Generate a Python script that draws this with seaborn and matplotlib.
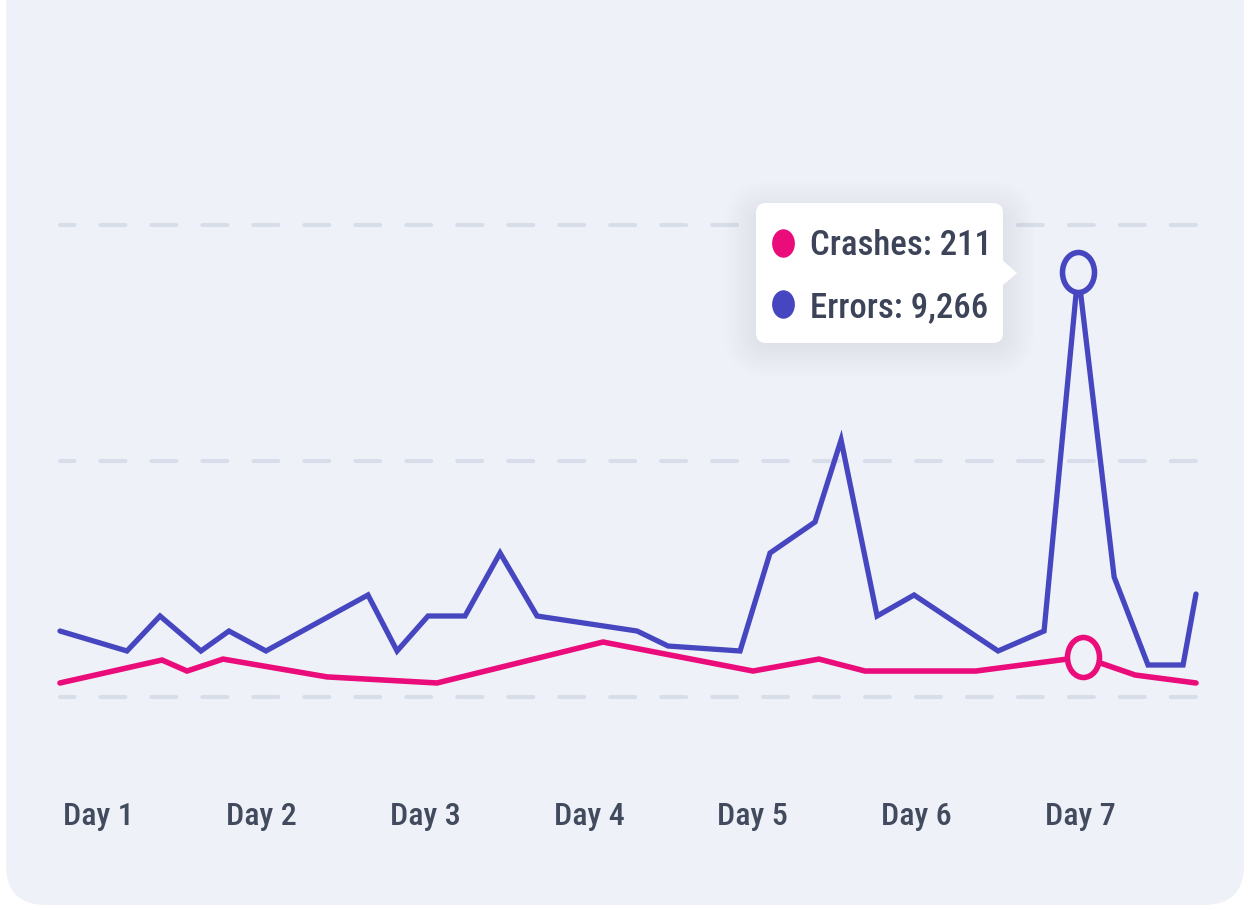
import matplotlib
matplotlib.use("Agg")
import matplotlib.pyplot as plt
import seaborn as sns
from matplotlib.patches import FancyBboxPatch, Polygon
from matplotlib.path import Path
import matplotlib.transforms as mtransforms

# ---------------- data ----------------
day_ticks = [1, 2, 3, 4, 5, 6, 7]
day_labels = ["Day 1", "Day 2", "Day 3", "Day 4", "Day 5", "Day 6", "Day 7"]

error_x = [0.768, 1.177, 1.379, 1.629, 1.800, 2.026, 2.649, 2.827, 3.016, 3.242,
           3.456, 3.682, 4.293, 4.482, 4.922, 5.105, 5.380, 5.539, 5.759, 5.985,
           6.498, 6.779, 6.987, 7.207, 7.414, 7.628, 7.707]
error_y = [1398, 975, 1716, 975, 1398, 975, 2161, 975, 1716, 1716,
           3051, 1716, 1398, 1080, 975, 3051, 3708, 5445, 1716, 2161,
           975, 1398, 9004, 2542, 678, 678, 2182]

crash_x = [0.768, 1.391, 1.544, 1.764, 2.399, 3.071, 4.085, 5.001, 5.404, 5.685,
           6.363, 7.017, 7.335, 7.707]
crash_y = [74, 195, 137, 200, 106, 74, 290, 137, 200, 137,
           137, 211, 116, 74]

grid_values = [0, 5000, 10000]
highlight_error_idx = 22
highlight_crash_idx = 11
tooltip_lines = ["Crashes: 211", "Errors: 9,266"]

# ---------------- style ----------------
CARD = "#eef1f7"
BLUE = "#4646c0"
PINK = "#ea0c7a"
TEXT = "#3d4459"
GRID = "#d8ddea"

sns.set_theme(style="white")
plt.rcParams["font.family"] = ["Roboto Condensed", "Roboto", "DejaVu Sans"]
plt.rcParams["lines.scale_dashes"] = False

W, H = 1248, 910
fig = plt.figure(figsize=(W / 100, H / 100), dpi=100)
fig.patch.set_facecolor("white")

# background card
bg = fig.add_axes([0, 0, 1, 1], zorder=0)
bg.set_xlim(0, W)
bg.set_ylim(H, 0)
bg.axis("off")
bg.add_patch(FancyBboxPatch((6, -100), 1238, 1005,
                            boxstyle="round,pad=0,rounding_size=40",
                            facecolor=CARD, edgecolor="none"))

# main axes (pixel frame: x 60..1196, y 150..760)
ax = fig.add_axes([60 / W, 1 - 760 / H, 1136 / W, 610 / H], zorder=2)
ax.set_facecolor("none")
ax2 = ax.twinx()
ax2.set_facecolor("none")

x0 = min(error_x + crash_x)
x1 = max(error_x + crash_x)
ax.set_xlim(x0, x1)

err_per_px = 10000 / 472.0
cr_per_px = 211 / 40.0
ax.set_ylim(-(760 - 697) * err_per_px, (697 - 150) * err_per_px)
ax2.set_ylim(-(760 - 697) * cr_per_px, (697 - 150) * cr_per_px)

for v in grid_values:
    ax.plot([x0, x1], [v, v], color=GRID, lw=2.9,
            linestyle=(7.6, (18.0, 18.7)), dash_capstyle="round",
            clip_on=False, zorder=1)

sns.lineplot(x=error_x, y=error_y, ax=ax, color=BLUE, lw=3.8,
             estimator=None, sort=False, zorder=3)
sns.lineplot(x=crash_x, y=crash_y, ax=ax2, color=PINK, lw=4.0,
             estimator=None, sort=False, zorder=3)
for a in (ax, ax2):
    for ln in a.lines:
        ln.set_solid_joinstyle("miter")
        ln.set_solid_capstyle("round")
        ln.set_clip_on(False)

# elliptical marker path (slightly narrow, as in the reference)
circ = Path.unit_circle()
ell = mtransforms.Affine2D().scale(0.8, 1.0).transform_path(circ)

ax.plot([error_x[highlight_error_idx]], [error_y[highlight_error_idx]],
        marker=ell, ms=28.8, mfc=CARD, mec=BLUE, mew=4.0, ls="none",
        zorder=5, clip_on=False)
ax2.plot([crash_x[highlight_crash_idx]], [crash_y[highlight_crash_idx]],
         marker=ell, ms=28.8, mfc=CARD, mec=PINK, mew=4.0, ls="none",
         zorder=5, clip_on=False)

ax.set_xticks(day_ticks, day_labels)
ax.tick_params(axis="x", length=0, pad=30, labelsize=23, labelcolor="#424a5e")
for lab in ax.get_xticklabels():
    lab.set_fontweight("medium")
ax.set_yticks([])
ax2.set_yticks([])
for a in (ax, ax2):
    a.grid(False)
    for s in a.spines.values():
        s.set_visible(False)

# tooltip overlay
top = fig.add_axes([0, 0, 1, 1], zorder=6)
top.set_facecolor("none")
top.set_xlim(0, W)
top.set_ylim(H, 0)
top.axis("off")

bx0, by0, bx1, by1 = 756, 203, 1003, 343
for i in range(16):
    g = 3 + i * 2.2
    top.add_patch(FancyBboxPatch((bx0 - g + 4, by0 - g + 14), (bx1 - bx0) + 2 * g - 8,
                                 (by1 - by0) + 2 * g - 16,
                                 boxstyle="round,pad=0,rounding_size=%f" % (10 + g),
                                 facecolor="#9aa2c8", edgecolor="none", alpha=0.009))
top.add_patch(FancyBboxPatch((bx0, by0), bx1 - bx0, by1 - by0,
                             boxstyle="round,pad=0,rounding_size=10",
                             facecolor="white", edgecolor="none"))
top.add_patch(Polygon([[1001, 259], [1017, 273], [1001, 287]], closed=True,
                      facecolor="white", edgecolor="none"))

dot_colors = [PINK, BLUE]
baselines = [255, 317]
dot_y = [243, 304]
for txt, c, yb, yd in zip(tooltip_lines, dot_colors, baselines, dot_y):
    top.plot([783], [yd], marker=ell, ms=20.5, mfc=c, mec="none", ls="none")
    top.text(810, yb, txt, fontsize=25, color=TEXT, va="baseline", ha="left",
             fontweight="medium")

fig.savefig("out.png", dpi=100, facecolor="white")
